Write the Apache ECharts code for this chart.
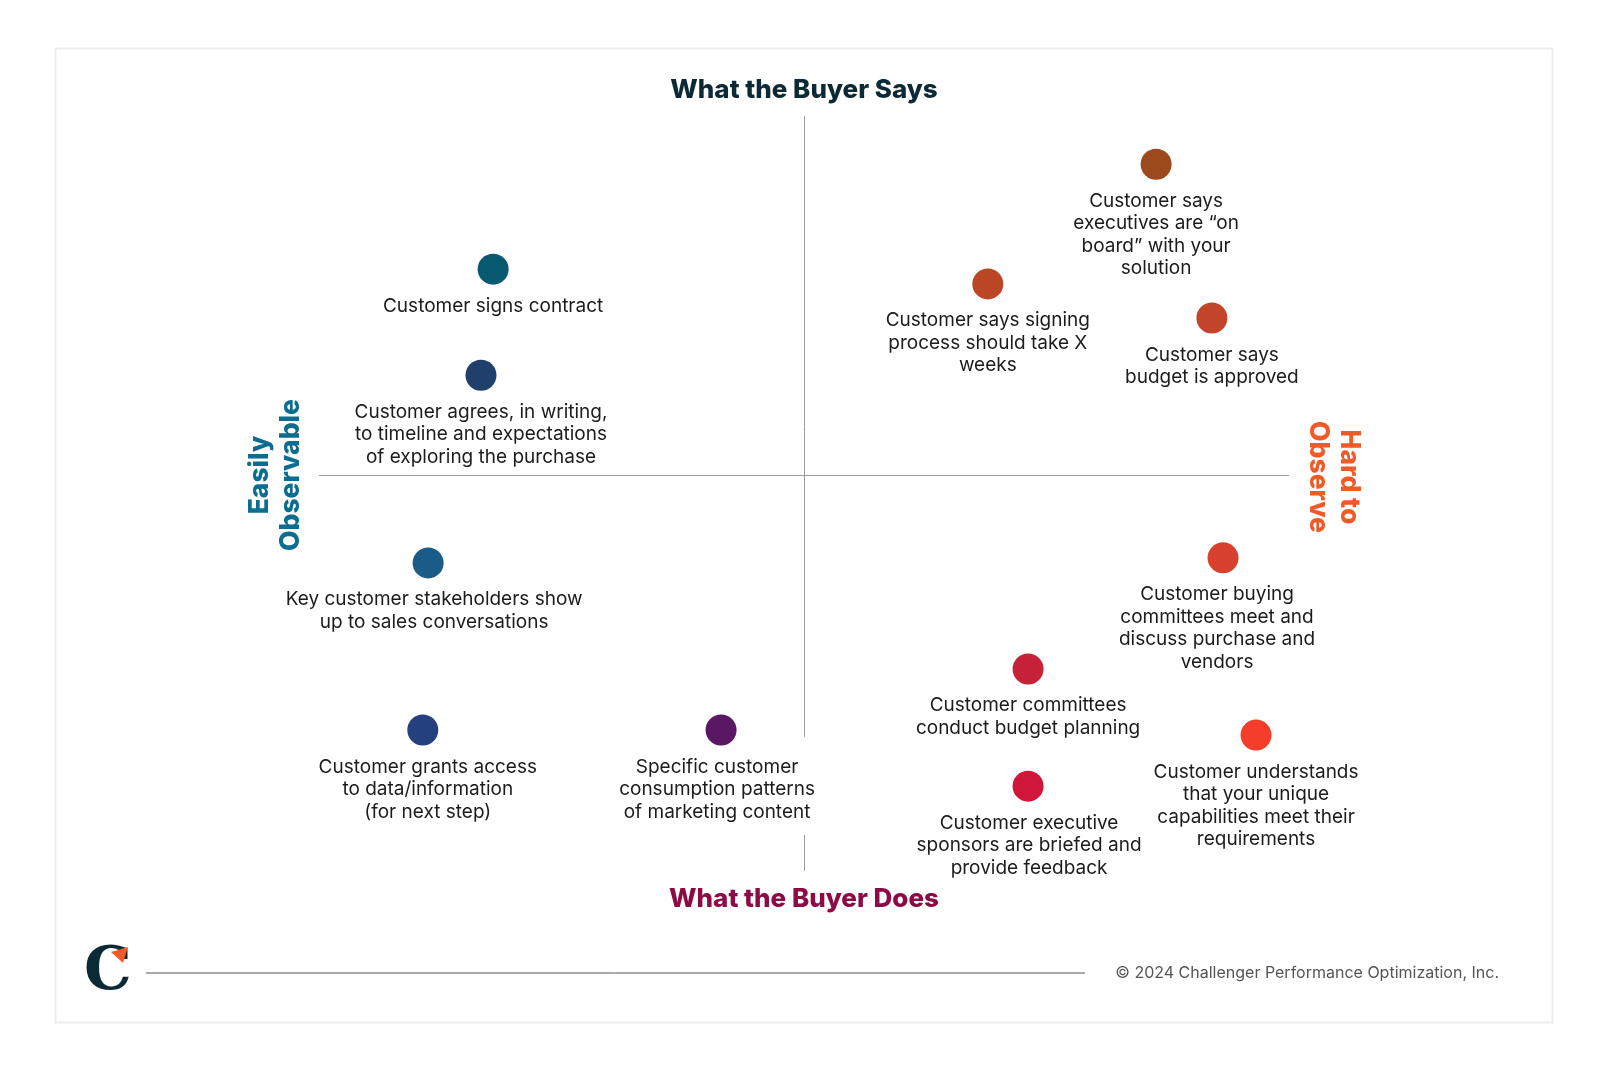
<!DOCTYPE html>
<html>
<head>
<meta charset="utf-8">
<script src="https://cdn.jsdelivr.net/npm/echarts@6/dist/echarts.min.js"></script>
<style>
html, body { margin: 0; padding: 0; background: #fff; }
#main { width: 1610px; height: 1066px; }
</style>
</head>
<body>
<div id="main"></div>
<script>
// data: quadrant positions (x: observable -> hard, y: does -> says)
var labels = [
    'Customer signs contract',
    'Customer agrees, in writing,\nto timeline and expectations\nof exploring the purchase',
    'Key customer stakeholders show\nup to sales conversations',
    'Customer grants access\nto data/information\n(for next step)',
    'Specific customer\nconsumption patterns\nof marketing content',
    'Customer says\nexecutives are \u201con\nboard\u201d with your\nsolution',
    'Customer says signing\nprocess should take X\nweeks',
    'Customer says\nbudget is approved',
    'Customer buying\ncommittees meet and\ndiscuss purchase and\nvendors',
    'Customer committees\nconduct budget planning',
    'Customer executive\nsponsors are briefed and\nprovide feedback',
    'Customer understands\nthat your unique\ncapabilities meet their\nrequirements'
];
var xValues = [-64.1, -66.6, -77.5, -78.6, -17.1, 72.6, 37.9, 84.1, 86.4, 46.2, 46.2, 93.2];
var yValues = [57.4, 27.9, -24.3, -70.8, -70.8, 86.6, 53.3, 43.8, -22.9, -53.8, -86.4, -72.2];
var dotColors = ['#07596f', '#203f6a', '#1b5b88', '#24407f', '#5a1763', '#9c4a1b',
                 '#ba4626', '#c2442a', '#d8412d', '#c8213a', '#d0163a', '#f53d2b'];
var labelShift = [0, 0, 6, 5, -4, 0, 0, 0, -6, 0, 1, 0];

var dom = document.getElementById('main');
var myChart = echarts.init(dom);

var points = [];
for (var i = 0; i < labels.length; i++) {
    points.push({
        value: [xValues[i], yValues[i]],
        itemStyle: { color: dotColors[i], opacity: 1 },
        label: { offset: [labelShift[i], 0] },
        name: labels[i]
    });
}

var lineStyle = { color: '#9a9a9a', width: 1, type: 'solid' };

var option = {
    backgroundColor: '#fff',
    animation: false,
    grid: { left: 319, top: 116, width: 970, height: 755 },
    xAxis: { type: 'value', min: -100, max: 100, show: false },
    yAxis: { type: 'value', min: -110, max: 100, show: false },
    graphic: [
        {
            type: 'rect', left: 53, top: 46,
            shape: { width: 1497, height: 974 },
            style: { fill: 'none', stroke: '#ededed', lineWidth: 2 }
        },
        {
            type: 'text', x: 804, y: 90,
            style: { text: 'What the Buyer Says', fill: '#0b2a35', font: '800 26px Inter',
                     textAlign: 'center', textVerticalAlign: 'middle' }
        },
        {
            type: 'text', x: 804, y: 899,
            style: { text: 'What the Buyer Does', fill: '#8c0b45', font: '800 26px Inter',
                     textAlign: 'center', textVerticalAlign: 'middle' }
        },
        {
            type: 'text', x: 276, y: 475, rotation: Math.PI / 2,
            style: { text: 'Easily\nObservable', fill: '#0b6d8f', font: '800 26.5px Inter',
                     lineHeight: 31, textAlign: 'center', textVerticalAlign: 'middle' }
        },
        {
            type: 'text', x: 1333, y: 477, rotation: -Math.PI / 2,
            style: { text: 'Hard to\nObserve', fill: '#f05a28', font: '800 26.5px Inter',
                     lineHeight: 31, textAlign: 'center', textVerticalAlign: 'middle' }
        },
        {
            type: 'line',
            shape: { x1: 146, y1: 973, x2: 1085, y2: 973 },
            style: { stroke: '#555', lineWidth: 1 }
        },
        {
            type: 'text', x: 1499, y: 973,
            style: { text: '\u00a9 2024 Challenger Performance Optimization, Inc.', fill: '#555',
                     font: '16px Inter', textAlign: 'right', textVerticalAlign: 'middle' }
        },
        // logo
        {
            type: 'text', x: 108, y: 973,
            style: { text: 'C', fill: '#0b2a35', font: 'bold 60px "DejaVu Serif"',
                     textAlign: 'center', textVerticalAlign: 'middle' }
        },
        {
            type: 'polygon',
            shape: { points: [[111, 952], [128, 947], [123, 963]] },
            style: { fill: '#f15a29' }
        }
    ],
    series: [
        {
            type: 'scatter',
            symbolSize: 31,
            data: points,
            label: {
                show: true,
                position: 'bottom',
                distance: 10,
                formatter: '{b}',
                color: '#1c1c1c',
                fontFamily: 'Inter',
                fontSize: 19,
                lineHeight: 22.5,
                align: 'center'
            },
            markLine: {
                silent: true,
                symbol: 'none',
                label: { show: false },
                lineStyle: lineStyle,
                data: [
                    [{ coord: [-100, 0] }, { coord: [100, 0] }],
                    [{ coord: [0, 100] }, { coord: [0, -72.7] }],
                    [{ coord: [0, -100] }, { coord: [0, -110] }]
                ]
            }
        }
    ]
};

if (option && typeof option === 'object') {
    myChart.setOption(option, true);
}
</script>
</body>
</html>
